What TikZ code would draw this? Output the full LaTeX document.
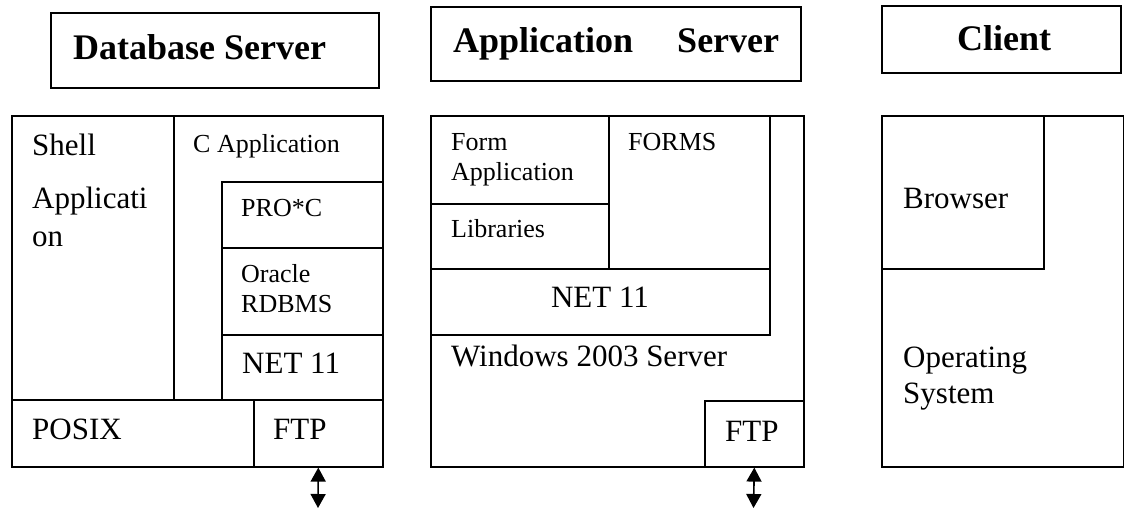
\documentclass[tikz,border=0pt]{standalone}
\usepackage{fontspec}
\setmainfont{Liberation Serif}
\usetikzlibrary{arrows.meta}

\newcommand{\bigtext}{\fontsize{31}{38}\selectfont}
\newcommand{\smalltext}{\fontsize{26}{30}\selectfont}
\newcommand{\headtext}{\fontsize{36}{40}\selectfont\bfseries}

\begin{document}
\begin{tikzpicture}[x=1pt, y=-1pt,
		box_style/.style={draw=black, line width=1.6pt, inner sep=0pt, anchor=north west},
		head_style/.style={box_style, line width=2pt},
		big_style/.style={inner sep=0pt, anchor=base west, align=left, font=\bigtext},
		small_style/.style={big_style, font=\smalltext},
		title_style/.style={big_style, font=\headtext},
		link_style/.style={line width=1.6pt, {Triangle[width=15pt,length=14pt]}-{Triangle[width=15pt,length=14pt]}}]
		
		\useasboundingbox (0,0) rectangle (1124,509);
		
		% headers
		\node[head_style, minimum width=328pt, minimum height=75pt] (db_head) at (50,12) {};
		\node[head_style, minimum width=370pt, minimum height=74pt] (app_head) at (430,6) {};
		\node[head_style, minimum width=239pt, minimum height=67pt] (client_head) at (881,5) {};
		\node[title_style] (db_title) at (73,59) {Database Server};
		\node[title_style] (app_title) at (453,52) {Application\hspace{44pt}Server};
		\node[title_style] (client_title) at (957,50) {Client};
		
		% database server
		\node[box_style, minimum width=162pt, minimum height=284pt] (shell) at (11,115) {};
		\node[box_style, minimum width=209pt, minimum height=284pt] (c_app) at (173,115) {};
		\node[box_style, minimum width=161pt, minimum height=66pt] (proc) at (221,181) {};
		\node[box_style, minimum width=161pt, minimum height=87pt] (oracle) at (221,247) {};
		\node[box_style, minimum width=161pt, minimum height=65pt] (net_db) at (221,334) {};
		\node[box_style, minimum width=242pt, minimum height=67pt] (posix) at (11,399) {};
		\node[box_style, minimum width=129pt, minimum height=67pt] (ftp_db) at (253,399) {};
		
		% multi-line texts sit on their last line
		\node[big_style] (shell_txt) at (32,246) {Shell\\[15pt]Applicati\\on};
		\node[small_style] (c_app_txt) at (193,152) {C Application};
		\node[small_style] (proc_txt) at (241,216) {PRO*C};
		\node[small_style] (oracle_txt) at (241,312) {Oracle\\RDBMS};
		\node[big_style] (net_db_txt) at (242,373) {NET 11};
		\node[big_style] (posix_txt) at (32,439) {POSIX};
		\node[big_style] (ftp_db_txt) at (273,439) {FTP};
		
		% application server
		\node[box_style, minimum width=373pt, minimum height=351pt] (win) at (430,115) {};
		\node[box_style, minimum width=178pt, minimum height=88pt] (form_app) at (430,115) {};
		\node[box_style, minimum width=178pt, minimum height=65pt] (libs) at (430,203) {};
		\node[box_style, minimum width=161pt, minimum height=153pt] (forms) at (608,115) {};
		\node[box_style, minimum width=339pt, minimum height=66pt] (net_app) at (430,268) {};
		\node[box_style, minimum width=99pt, minimum height=66pt] (ftp_app) at (704,400) {};
		
		\node[small_style] (form_app_txt) at (451,180) {Form\\Application};
		\node[small_style] (forms_txt) at (628,150) {FORMS};
		\node[small_style] (libs_txt) at (451,237) {Libraries};
		\node[big_style, anchor=base] (net_app_txt) at (600,307) {NET 11};
		\node[big_style] (win_txt) at (451,366) {Windows 2003 Server};
		\node[big_style] (ftp_app_txt) at (725,441) {FTP};
		
		% client
		\node[box_style, minimum width=242pt, minimum height=351pt] (os) at (881,115) {};
		\node[box_style, minimum width=162pt, minimum height=153pt] (browser) at (881,115) {};
		\node[big_style] (browser_txt) at (903,208) {Browser};
		\node[big_style] (os_txt) at (903,403) {Operating\\[-2pt]System};
		
		% links
		\coordinate (db_out) at (318,508);
		\coordinate (app_out) at (753.5,508);
		\draw[link_style] (ftp_db.south) -- (db_out);
		\draw[link_style] (ftp_app.south) -- (app_out);
		
\end{tikzpicture}
\end{document}
